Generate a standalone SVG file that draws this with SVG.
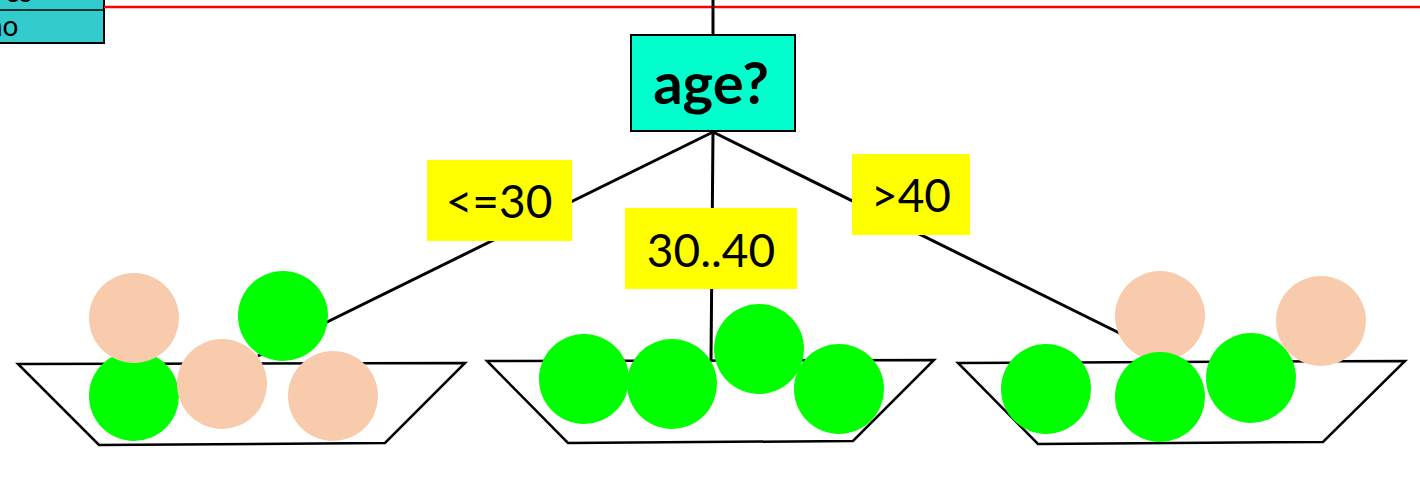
<svg xmlns="http://www.w3.org/2000/svg" width="1420" height="492" viewBox="0 0 1420 492">
  <style>
    .edge { stroke: #000; stroke-width: 3; fill: none; stroke-linecap: butt; }
    .bowl { fill: #fff; stroke: #000; stroke-width: 2.5; stroke-linejoin: miter; }
    .lab { fill: #ffff00; }
    .labtxt { font-family: Lato, "Open Sans", sans-serif; font-size: 46px; fill: #000; text-anchor: middle; }
    .yes { fill: #00ff00; }
    .no { fill: #f8cbad; }
  </style>

  <!-- partial table in the top-left corner -->
  <g id="table">
    <rect x="-4" y="-20" width="108" height="63" fill="#33cccc" stroke="#000" stroke-width="2"/>
    <line x1="-4" y1="10" x2="104" y2="10" stroke="#000" stroke-width="1.5"/>
    <text x="-9" y="2" font-family="Lato, 'Open Sans', sans-serif" font-size="28" fill="#000">yes</text>
    <text x="-13" y="36" font-family="Lato, 'Open Sans', sans-serif" font-size="28" fill="#000">no</text>
  </g>

  <!-- red rule across the top -->
  <line id="rule" x1="104" y1="7" x2="1420" y2="7" stroke="#ff0000" stroke-width="2.5"/>

  <!-- connectors -->
  <g id="connectors">
    <line class="edge" x1="713" y1="0" x2="713" y2="35"/>
    <line class="edge" x1="713" y1="132" x2="258" y2="356"/>
    <line class="edge" x1="713" y1="132" x2="711" y2="361"/>
    <line class="edge" x1="713" y1="132" x2="1178" y2="362"/>
  </g>

  <!-- decision node -->
  <g id="node-age">
    <rect x="631" y="35" width="164" height="96" fill="#00ffcc" stroke="#000" stroke-width="2"/>
    <text x="711" y="104" font-family="Lato, 'Open Sans', sans-serif" font-weight="bold" font-size="58" text-anchor="middle" fill="#000">age?</text>
  </g>

  <!-- branch labels -->
  <g id="label-le30">
    <rect class="lab" x="427" y="160" width="145" height="81"/>
    <text class="labtxt" x="499" y="218">&lt;=30</text>
  </g>
  <g id="label-30-40">
    <rect class="lab" x="625" y="208" width="172" height="81"/>
    <text class="labtxt" x="711" y="267">30..40</text>
  </g>
  <g id="label-gt40">
    <rect class="lab" x="852" y="154" width="118" height="81"/>
    <text class="labtxt" x="911" y="212">&gt;40</text>
  </g>

  <!-- left bowl: age <= 30 -->
  <g id="bowl-le30">
    <polygon class="bowl" points="18,364 465,363 385,443 99,445"/>
    <circle class="yes" cx="134" cy="396" r="45"/>
    <circle class="no" cx="134" cy="318" r="45"/>
    <circle class="no" cx="222" cy="384" r="45"/>
    <circle class="yes" cx="283" cy="316" r="45"/>
    <circle class="no" cx="333" cy="396" r="45"/>
  </g>

  <!-- middle bowl: age 30..40 -->
  <g id="bowl-30-40">
    <polygon class="bowl" points="487,361 934,360 853,441 568,443"/>
    <circle class="yes" cx="584" cy="379" r="45"/>
    <circle class="yes" cx="672" cy="384" r="45"/>
    <circle class="yes" cx="759" cy="349" r="45"/>
    <circle class="yes" cx="839" cy="389" r="45"/>
  </g>

  <!-- right bowl: age > 40 -->
  <g id="bowl-gt40">
    <polygon class="bowl" points="958,363 1405,361 1323,442 1038,444"/>
    <circle class="no" cx="1160" cy="316" r="45"/>
    <circle class="no" cx="1321" cy="321" r="45"/>
    <circle class="yes" cx="1046" cy="389" r="45"/>
    <circle class="yes" cx="1160" cy="397" r="45"/>
    <circle class="yes" cx="1251" cy="378" r="45"/>
  </g>
</svg>
